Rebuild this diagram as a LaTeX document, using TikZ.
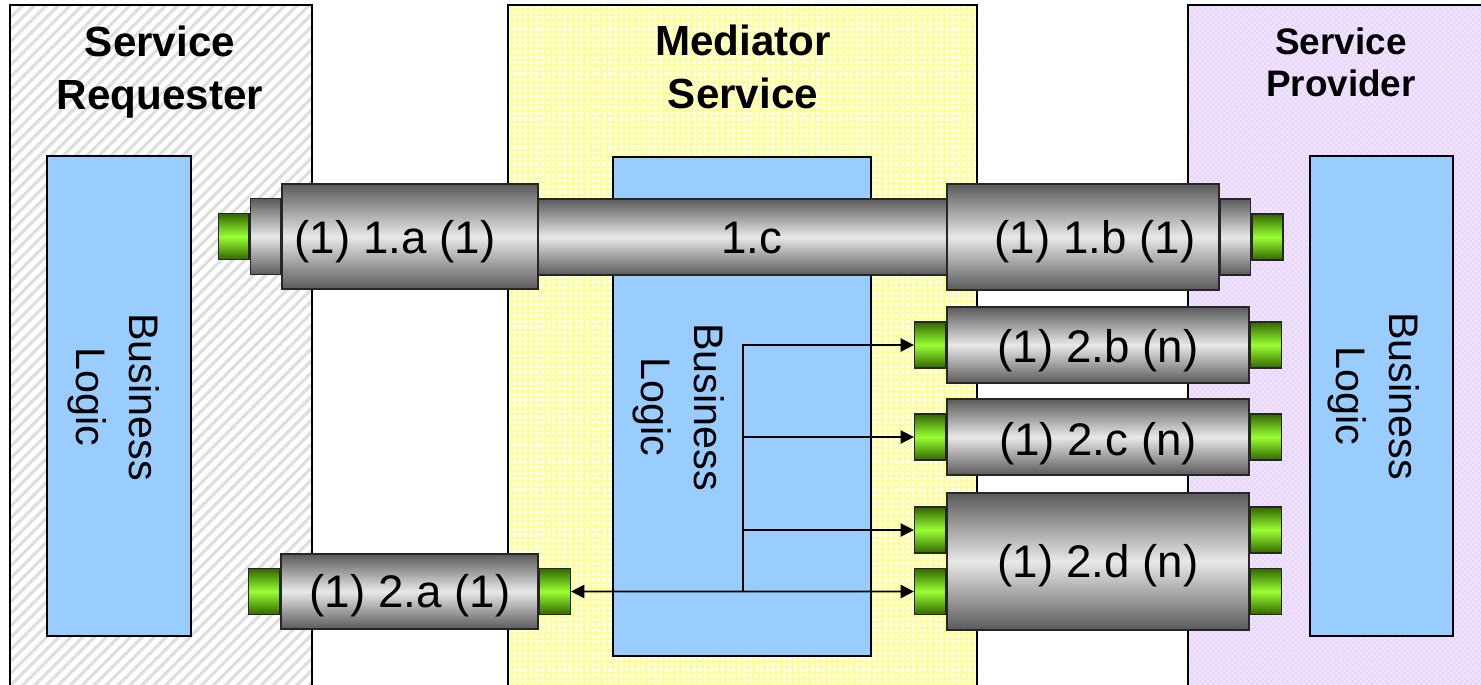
\documentclass[tikz,border=0pt]{standalone}
\usepackage{fontspec}
\setmainfont{Liberation Sans}
\usepackage{tikz}
\usetikzlibrary{arrows.meta,positioning,fit,patterns.meta}
\definecolor{LogicBlue}{HTML}{99CCFF}
\definecolor{PipeDark}{HTML}{5A5A5A}
\definecolor{PipeLight}{HTML}{E8E8E8}
\definecolor{PlugDark}{HTML}{336600}
\definecolor{PlugLight}{HTML}{99FF33}
\definecolor{Stripe}{HTML}{DEDEDE}
\definecolor{GridYellow}{HTML}{FFFF99}
\definecolor{Lilac}{HTML}{F2E6FF}
\definecolor{LilacDots}{HTML}{E6D4FA}

\begin{document}
\begin{tikzpicture}[x=0.02cm,y=-0.02cm,
  lane/.style={draw=black,line width=0.9pt,inner sep=0pt},
  logicbox/.style={draw=black,line width=0.8pt,fill=LogicBlue,inner sep=0pt},
  pipe/.style={draw=black!85,line width=0.8pt,inner sep=0pt,top color=PipeDark,bottom color=PipeDark,middle color=PipeLight},
  collar/.style={pipe,minimum width=0.6cm,minimum height=1.52cm},
  plug/.style={draw=black!85,line width=0.8pt,inner sep=0pt,minimum width=0.62cm,minimum height=0.92cm,top color=PlugDark,bottom color=PlugDark,middle color=PlugLight},
  title/.style={font=\bfseries\fontsize{24}{30}\selectfont,align=center},
  pipetext/.style={font=\fontsize{26}{31}\selectfont},
  logictext/.style={font=\fontsize{23.5}{30}\selectfont,align=center,rotate=-90},
  bigtip/.tip={Triangle[length=7.5pt,width=7.5pt]},
  conn/.style={line width=0.9pt,-bigtip}]
  \useasboundingbox (0,0) rectangle (1481,684);
  \clip (0,0) rectangle (1481,684);

  \node[lane,fit={(10,5) (312,700)},preaction={fill=white},pattern={Lines[angle=45,distance=4.8pt,line width=1.8pt]},pattern color=Stripe] (req) {};
  \node[lane,fit={(508,5) (977,700)},preaction={fill=white},pattern={Hatch[distance=3.2pt,line width=1.4pt]},pattern color=GridYellow] (med) {};
  \node[lane,fit={(1188,5) (1500,700)},preaction={fill=Lilac},pattern={Hatch[angle=45,distance=2.2pt,line width=0.5pt]},pattern color=LilacDots] (prov) {};
  \node[title] (reqtitle) at (160,72) {Service\\Requester};
  \node[title] (medtitle) at (743,67) {Mediator\\Service};
  \node[title,font=\bfseries\fontsize{21}{24}\selectfont] (provtitle) at (1341,62) {Service\\Provider};

  \node[logicbox,fit={(47,156) (191,636)}] (reqlogic) {};
  \node[logicbox,fit={(613,157) (871,656)}] (medlogic) {};
  \node[logicbox,fit={(1310,156) (1453,636)}] (provlogic) {};
  \node[logictext] (reqlogictext) at (114,397) {Business\\Logic};
  \node[logictext] (medlogictext) at (679,407) {Business\\Logic};
  \node[logictext] (provlogictext) at (1374,396) {Business\\Logic};

  \node[pipe,fit={(538,199) (947,275)}] (ctube) {};
  \node[pipe,fit={(282,184) (538,289)}] (abody) {};
  \node[pipe,fit={(947,184) (1219,290)}] (bbody) {};
  \node[collar,left=0pt of abody] (acollar) {};
  \node[plug,left=0pt of acollar] (aplug) {};
  \node[collar,right=0pt of bbody] (bcollar) {};
  \node[plug,right=0pt of bcollar] (bplug) {};
  \node[pipetext] (alabel) at (395,242) {(1) 1.a (1)};
  \node[pipetext] (clabel) at (752,238) {1.c};
  \node[pipetext] (blabel) at (1095,242) {(1) 1.b (1)};

  \node[pipe,fit={(281,554) (538,629)}] (twoa) {};
  \node[plug,left=0pt of twoa] (twoaL) {};
  \node[plug,right=0pt of twoa] (twoaR) {};
  \node[pipe,fit={(947,307) (1249,383)}] (twob) {};
  \node[plug,left=0pt of twob] (twobL) {};
  \node[plug,right=0pt of twob] (twobR) {};
  \node[pipe,fit={(947,399) (1249,475)}] (twoc) {};
  \node[plug,left=0pt of twoc] (twocL) {};
  \node[plug,right=0pt of twoc] (twocR) {};
  \node[pipe,fit={(947,493) (1249,630)}] (twod) {};
  \node[plug,anchor=east] (twodL1) at (twod.west |- 0,530) {};
  \node[plug,anchor=east] (twodL2) at (twod.west |- 0,591.5) {};
  \node[plug,anchor=west] (twodR1) at (twod.east |- 0,530) {};
  \node[plug,anchor=west] (twodR2) at (twod.east |- 0,591.5) {};
  \node[pipetext] (twoalabel) at (410,596) {(1) 2.a (1)};
  \node[pipetext] (twoblabel) at (1098,351) {(1) 2.b (n)};
  \node[pipetext] (twoclabel) at (1098,444) {(1) 2.c (n)};
  \node[pipetext] (twodlabel) at (1098,566) {(1) 2.d (n)};

  \coordinate (hub) at (743,591.5);
  \draw[conn] (hub) |- (twobL.west);
  \draw[conn] (hub) |- (twocL.west);
  \draw[conn] (hub) |- (twodL1.west);
  \draw[line width=1.1pt,bigtip-bigtip] (twoaR.east) -- (twodL2.west);
\end{tikzpicture}
\end{document}
